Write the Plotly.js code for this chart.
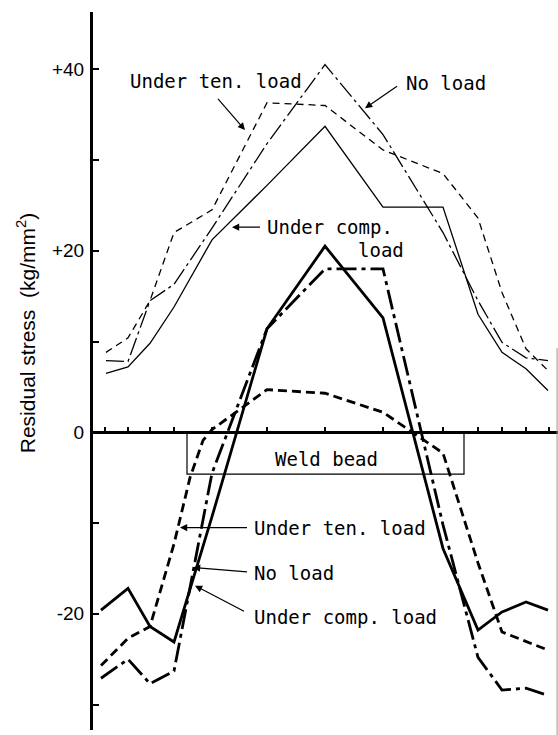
<!DOCTYPE html>
<html><head><meta charset="utf-8">
<script src="https://cdn.plot.ly/plotly-3.0.1.min.js"></script>
<style>html,body{margin:0;padding:0;background:#fff}</style>
</head><body>
<div id="chart" style="width:558px;height:735px"></div>
<script>
// Measurement positions (distance from weld centre, arbitrary units)
const measurePos = [-22.0, -19.7, -17.5, -15.1, -11.3, -5.8, 0, 5.8, 11.8, 15.3, 17.7, 20.1, 22.4];
const xUpper     = [-21.9, -19.7, -17.5, -15.1, -11.3, -5.8, 0, 5.8, 11.8, 15.3, 17.7, 20.1, 22.3];
const xLower     = [-22.4, -19.7, -17.5, -15.1, -11.3, -5.8, 0, 5.8, 11.8, 15.3, 17.7, 20.1, 22.3];
const xLowerTen  = [-22.4, -19.7, -17.5, -15.1, -13.5, -12.2, -11.3, -5.8, 0, 5.8, 11.8, 15.3, 17.7, 20.1, 22.3];

// Upper set (thin lines), kg/mm2
const upperTen  = [8.8, 10.4, 14.5, 22.0, 24.5, 36.3, 36.0, 31.1, 28.5, 23.6, 15.4, 9.2, 6.8];
const upperNo   = [7.9, 7.8, 14.5, 16.3, 22.5, 31.8, 40.5, 32.8, 22.0, 14.5, 9.9, 8.2, 7.9];
const upperComp = [6.5, 7.2, 9.8, 13.8, 21.2, 27.2, 33.7, 24.8, 24.8, 13.0, 8.8, 7.0, 4.6];

// Lower set (thick lines), kg/mm2
const lowerTen  = [-25.7, -22.7, -21.4, -12.3, -5.0, -0.9, 0.3, 4.7, 4.3, 2.2, -2.3, -14.4, -22.0, -23.0, -24.0];
const lowerNo   = [-27.1, -25.0, -27.7, -26.3, -4.5, 11.4, 18.0, 18.0, -10.2, -24.8, -28.4, -28.2, -29.0];
const lowerComp = [-19.6, -17.2, -21.4, -23.1, -9.3, 11.4, 20.5, 12.6, -12.8, -21.8, -19.8, -18.7, -19.6];

const yTickVals = [-20, 0, 20, 40];
const yTickText = ['-20', '0', '+20', '+40'];

const yRange = [-32.8, 46.3];
const xRange = [-23.2, 23.3];
const weldBead = [-13.8, 13.9];

const thin = 1.3, thick = 2.8;
const traces = [
  {x: xUpper, y: upperTen,  mode: 'lines', line: {color: '#000', width: thin, dash: '7px,5px'}},
  {x: xUpper, y: upperNo,   mode: 'lines', line: {color: '#000', width: thin, dash: '18px,4px,3px,4px'}},
  {x: xUpper, y: upperComp, mode: 'lines', line: {color: '#000', width: thin}},
  {x: xLowerTen, y: lowerTen, mode: 'lines', line: {color: '#000', width: thick, dash: '9px,5px'}},
  {x: xLower, y: lowerNo,   mode: 'lines', line: {color: '#000', width: thick, dash: '20px,5px,4px,5px'}},
  {x: xLower, y: lowerComp, mode: 'lines', line: {color: '#000', width: thick}}
];

const mono = {family: 'DejaVu Sans Mono', size: 19, color: '#000'};
function txt(x, y, text, xanchor) {
  return {x: x, y: y, xref: 'x', yref: 'y', text: text, showarrow: false,
          xanchor: xanchor || 'center', yanchor: 'middle', font: mono};
}
function arrow(hx, hy, tx, ty) {
  return {x: hx, y: hy, ax: tx, ay: ty, xref: 'x', yref: 'y', axref: 'x', ayref: 'y',
          text: ' ', showarrow: true, arrowhead: 2, arrowsize: 1.2, arrowwidth: 1.2, arrowcolor: '#000'};
}

const annotations = [
  txt(-10.9, 38.7, 'Under ten. load'),
  arrow(-8.0, 33.3, -11.0, 37.1),
  txt(12.1, 38.5, 'No load'),
  arrow(4.0, 35.7, 7.5, 38.35),
  txt(-6.0, 22.6, 'Under comp.', 'left'),
  txt(5.6, 20.1, 'load'),
  arrow(-9.3, 22.6, -6.2, 22.6),
  txt(0.1, -2.9, 'Weld bead'),
  txt(-7.3, -10.5, 'Under ten. load', 'left'),
  arrow(-14.5, -10.5, -7.5, -10.5),
  txt(-7.3, -15.5, 'No load', 'left'),
  arrow(-13.2, -14.9, -7.5, -15.4),
  txt(-7.3, -20.4, 'Under comp. load', 'left'),
  arrow(-13.0, -16.9, -7.8, -19.9),
  {x: -0.145, y: 0.552, xref: 'paper', yref: 'paper', textangle: -90,
   text: 'Residual stress  (kg/mm<sup>2</sup>)', showarrow: false,
   xanchor: 'center', yanchor: 'middle',
   font: {family: 'Liberation Sans', size: 21, color: '#000'}}
];

const zeroPos = (0 - yRange[0]) / (yRange[1] - yRange[0]);

const layout = {
  width: 558, height: 735,
  margin: {l: 93, r: 0, t: 12, b: 5},
  paper_bgcolor: '#fff', plot_bgcolor: '#fff',
  showlegend: false, hovermode: false,
  xaxis: {
    range: xRange, anchor: 'free', position: zeroPos, side: 'top',
    showline: true, linewidth: 3, linecolor: '#000',
    ticks: 'outside', ticklen: 4, tickwidth: 1.5, tickcolor: '#000',
    tickmode: 'array', tickvals: measurePos, showticklabels: false,
    showgrid: false, zeroline: false
  },
  yaxis: {
    range: yRange, showline: true, linewidth: 3, linecolor: '#000',
    ticks: 'inside', ticklen: 6, tickwidth: 2, tickcolor: '#000',
    tickmode: 'array', tickvals: yTickVals, ticktext: yTickText,
    minor: {tick0: 0, dtick: 10, ticks: 'inside', ticklen: 6, tickwidth: 2, tickcolor: '#000', showgrid: false},
    tickfont: {family: 'Liberation Sans', size: 19, color: '#000'},
    ticklabelstandoff: 2,
    showgrid: false, zeroline: false
  },
  shapes: [
    {type: 'rect', xref: 'x', yref: 'y', x0: weldBead[0], x1: weldBead[1], y0: 0, y1: -4.6,
     line: {color: '#000', width: 1.2}},
    {type: 'line', xref: 'paper', yref: 'paper', x0: 0.998, x1: 0.998, y0: 0.532, y1: -0.01,
     line: {color: '#999', width: 1}}
  ],
  annotations: annotations
};

Plotly.newPlot('chart', traces, layout, {staticPlot: true, displayModeBar: false});
</script>
</body></html>
